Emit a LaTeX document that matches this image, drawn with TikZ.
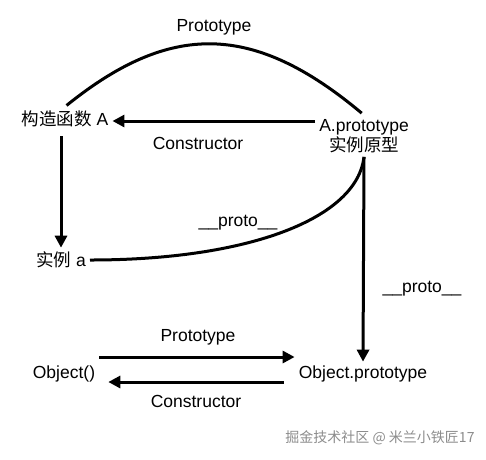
\documentclass[tikz,border=0pt]{standalone}
\usepackage{fontspec}
\setmainfont{Liberation Sans}
\newfontfamily\cjk{Noto Sans CJK SC}
\usetikzlibrary{arrows.meta}
\definecolor{wm}{RGB}{140,140,140}
\begin{document}
\begin{tikzpicture}[x=1pt,y=-1pt,
  lbl/.style={font=\fontsize{17.5}{20}\selectfont, inner sep=4pt},
  ln/.style={line width=3pt},
  arr/.style={ln, -{Triangle[length=12pt,width=12pt]}}]
\useasboundingbox (0,0) rectangle (486,459);
% main nodes
\node[lbl] (cA) at (65,119) {{\cjk 构造函数} A};
\node[lbl, align=center] (Ap) at (364,136) {A.prototype\\{\cjk 实例原型}};
\node[lbl] (ia) at (61,260) {{\cjk 实例} a};
\node[lbl] (Oc) at (64,374) {Object()};
\node[lbl] (Op) at (363,374) {Object.prototype};
% labels
\node[lbl] (lP1) at (214,27) {Prototype};
\node[lbl] (lC1) at (198,143) {Constructor};
\node[lbl] (lpr1) at (238,223) {\_\_proto\_\_};
\node[lbl] (lpr2) at (422,289) {\_\_proto\_\_};
\node[lbl] (lP2) at (198,337) {Prototype};
\node[lbl] (lC2) at (196,401) {Constructor};
\node[font=\cjk\fontsize{14}{16}\selectfont, text=wm] (wmk) at (380,438) {掘金技术社区 @ 米兰小铁匠17};
% connectors
\draw[ln, shorten <=2pt, shorten >=3pt] (cA.north) .. controls (170,22) and (253,22) .. (Ap.north);
\draw[arr] ([yshift=-2pt]Ap.west |- cA.east) -- ([yshift=-2pt]cA.east);
\draw[arr, shorten <=5pt] (cA.south -| ia.north) -- (ia.north);
\draw[ln] (ia.east) .. controls (250,260) and (357,218) .. (Ap.south);
\draw[arr] (Ap.south) -- (Op.north);
\draw[arr] ([yshift=17pt]Oc.east) -- ([yshift=17pt]Op.west);
\draw[arr, shorten <=11pt, shorten >=9pt] ([yshift=-8pt]Op.west) -- ([yshift=-8pt]Oc.east);
\end{tikzpicture}
\end{document}
